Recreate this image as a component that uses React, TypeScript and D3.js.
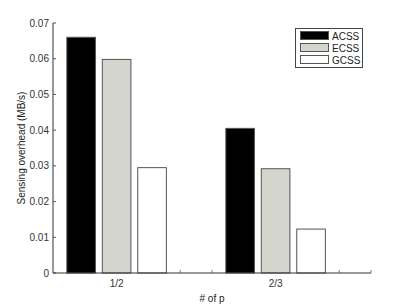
import * as d3 from "d3";
import { useRef, useEffect } from "react";

const groups = ["1/2", "2/3"];
const series = ["ACSS", "ECSS", "GCSS"];
const colors = ["#000000", "#d4d6cd", "#ffffff"];
const acss = [0.066, 0.0405];
const ecss = [0.0598, 0.0292];
const gcss = [0.0295, 0.0123];
const yTicks = [0, 0.01, 0.02, 0.03, 0.04, 0.05, 0.06, 0.07];
const xMinorTicks = [1.4, 1.6, 2.4];

function App() {
  const svgRef = useRef(null);

  useEffect(() => {
    const WIDTH = 409;
    const HEIGHT = 308;
    const left = 53, right = 371, top = 23, bottom = 273;
    const values = [acss, ecss, gcss];

    document.body.style.margin = "0";

    const x = d3.scaleLinear().domain([0.6, 2.6]).range([left, right]);
    const y = d3.scaleLinear().domain([0, 0.07]).range([bottom, top]);

    const svg = d3.select(svgRef.current)
      .attr('width', WIDTH)
      .attr('height', HEIGHT)
      .style('font-family', '"Liberation Sans", Arial, sans-serif');
    svg.selectAll('*').remove();

    const barW = 0.18;
    const step = 0.223;

    // bars
    series.forEach((s, si) => {
      svg.append('g').selectAll('rect')
        .data(values[si])
        .join('rect')
        .attr('x', (d, gi) => x(gi + 1 + (si - 1) * step - barW / 2))
        .attr('y', d => y(d))
        .attr('width', x(barW) - x(0))
        .attr('height', d => y(0) - y(d))
        .attr('fill', colors[si])
        .attr('stroke', '#555')
        .attr('stroke-width', 1);
    });

    // y axis
    const yAxis = svg.append('g').attr('transform', `translate(${left},0)`);
    yAxis.append('line')
      .attr('x1', 0).attr('x2', 0)
      .attr('y1', y(0)).attr('y2', y(0.07))
      .attr('stroke', '#333');
    yAxis.selectAll('line.tick')
      .data(yTicks)
      .join('line')
      .attr('class', 'tick')
      .attr('x1', 0).attr('x2', 3)
      .attr('y1', d => y(d)).attr('y2', d => y(d))
      .attr('stroke', '#555');
    yAxis.selectAll('text')
      .data(yTicks)
      .join('text')
      .attr('x', -4)
      .attr('y', d => y(d) + 3.5)
      .attr('text-anchor', 'end')
      .attr('font-size', 10)
      .attr('fill', '#333')
      .text(d => d === 0 ? '0' : d3.format('.2f')(d));

    // x axis
    const xAxis = svg.append('g');
    xAxis.append('line')
      .attr('x1', left).attr('x2', right)
      .attr('y1', bottom).attr('y2', bottom)
      .attr('stroke', '#333');
    xAxis.selectAll('line.tick')
      .data([...xMinorTicks, 2.6])
      .join('line')
      .attr('class', 'tick')
      .attr('x1', d => x(d)).attr('x2', d => x(d))
      .attr('y1', bottom).attr('y2', bottom - 3)
      .attr('stroke', '#777');
    xAxis.selectAll('text')
      .data(groups)
      .join('text')
      .attr('x', (d, i) => x(i + 1))
      .attr('y', 287)
      .attr('text-anchor', 'middle')
      .attr('font-size', 10)
      .attr('fill', '#333')
      .text(d => d);

    svg.append('text')
      .attr('x', 212)
      .attr('y', 302)
      .attr('text-anchor', 'middle')
      .attr('font-size', 10)
      .attr('fill', '#222')
      .text('# of p');

    svg.append('text')
      .attr('transform', 'translate(25,148) rotate(-90)')
      .attr('text-anchor', 'middle')
      .attr('font-size', 10)
      .attr('fill', '#222')
      .text('Sensing overhead (MB/s)');

    // legend
    const legend = svg.append('g');
    legend.append('rect')
      .attr('x', 295.5).attr('y', 28.5)
      .attr('width', 67).attr('height', 39)
      .attr('fill', '#fff')
      .attr('stroke', '#444');
    series.forEach((s, i) => {
      legend.append('rect')
        .attr('x', 300.5).attr('y', 31.5 + i * 12)
        .attr('width', 28).attr('height', 8)
        .attr('fill', colors[i])
        .attr('stroke', '#555');
      legend.append('text')
        .attr('x', 332).attr('y', 39.5 + i * 12)
        .attr('font-size', 10)
        .attr('fill', '#222')
        .text(s);
    });
  }, []);

  return (
    <div id='chartArea'>
      <svg ref={svgRef} style={{ display: 'block' }} />
    </div>
  );
}

export default App;
